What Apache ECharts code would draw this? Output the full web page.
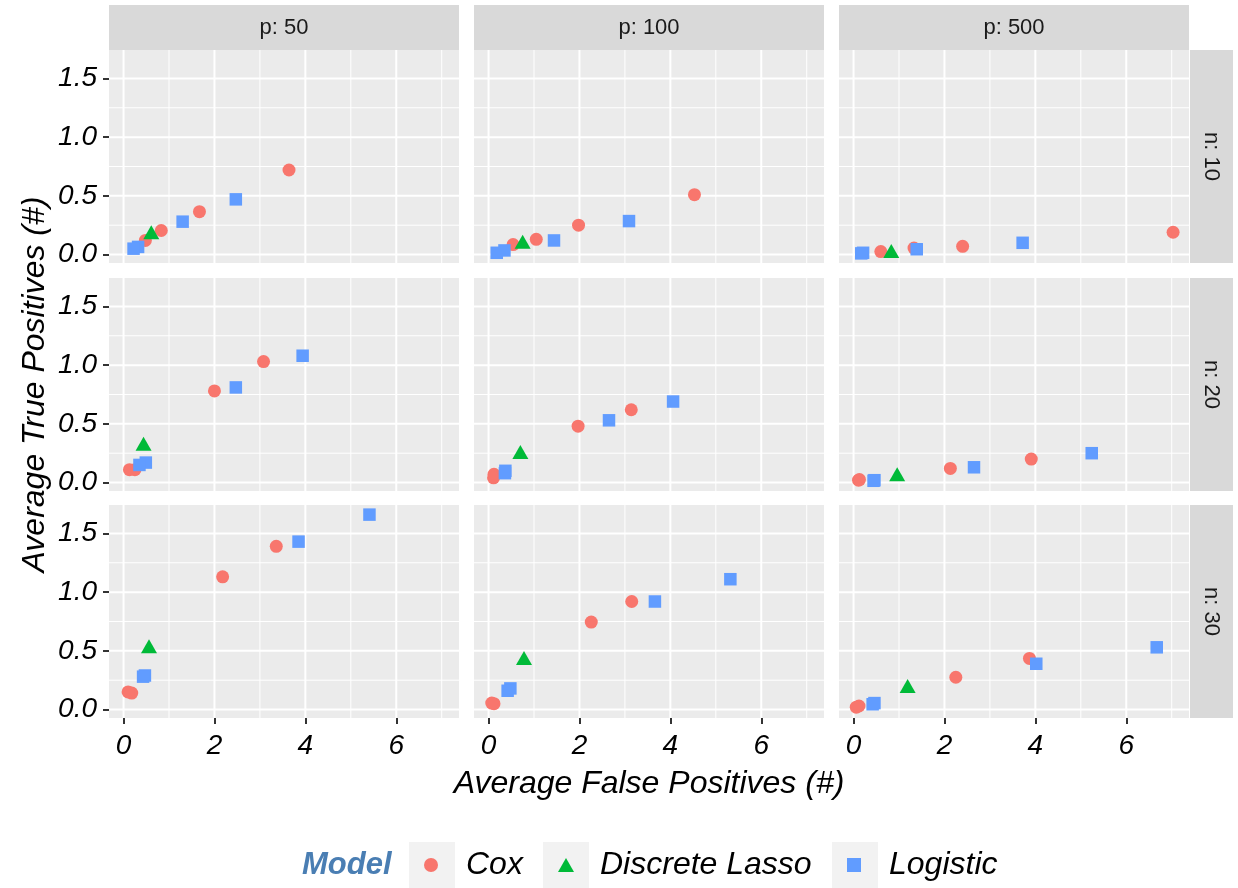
<!DOCTYPE html>
<html>
<head>
<meta charset="utf-8">
<title>Average True vs False Positives</title>
<script src="https://cdn.jsdelivr.net/npm/echarts@6/dist/echarts.min.js"></script>
<style>
  html, body { margin: 0; padding: 0; background: #ffffff; }
  #chart { width: 1238px; height: 888px; }
</style>
</head>
<body>
<div id="chart"></div>
<script>
// Facet labels and model names
const colLabels = ['p: 50', 'p: 100', 'p: 500'];
const rowLabels = ['n: 10', 'n: 20', 'n: 30'];
const models = ['Cox', 'Discrete Lasso', 'Logistic'];

// Axis breaks (major) and minor grid positions
const xBreaks = [0, 2, 4, 6];
const xMinor = [1, 3, 5, 7];
const yBreaks = [0, 0.5, 1.0, 1.5];
const yMinor = [0.25, 0.75, 1.25];

// [average false positives, average true positives]
// n: 10
const cox_n10_p50 = [[3.64, 0.72], [1.67, 0.365], [0.83, 0.205], [0.48, 0.12]];
const lasso_n10_p50 = [[0.61, 0.19]];
const logistic_n10_p50 = [[2.47, 0.47], [1.30, 0.28], [0.32, 0.065], [0.22, 0.05]];

const cox_n10_p100 = [[4.53, 0.51], [1.98, 0.25], [1.05, 0.13], [0.54, 0.085]];
const lasso_n10_p100 = [[0.75, 0.11]];
const logistic_n10_p100 = [[3.09, 0.285], [1.44, 0.12], [0.35, 0.035], [0.18, 0.015]];

const cox_n10_p500 = [[7.03, 0.19], [2.40, 0.07], [1.33, 0.055], [0.60, 0.025]];
const lasso_n10_p500 = [[0.83, 0.03]];
const logistic_n10_p500 = [[3.72, 0.10], [1.39, 0.045], [0.21, 0.015], [0.17, 0.01]];

// n: 20
const cox_n20_p50 = [[3.08, 1.03], [2.00, 0.78], [0.25, 0.11], [0.13, 0.11]];
const lasso_n20_p50 = [[0.44, 0.33]];
const logistic_n20_p50 = [[3.94, 1.08], [2.47, 0.81], [0.49, 0.17], [0.35, 0.15]];

const cox_n20_p100 = [[3.14, 0.62], [1.97, 0.48], [0.12, 0.07], [0.11, 0.04]];
const lasso_n20_p100 = [[0.70, 0.26]];
const logistic_n20_p100 = [[4.06, 0.69], [2.65, 0.53], [0.37, 0.10], [0.36, 0.08]];

const cox_n20_p500 = [[3.91, 0.20], [2.13, 0.12], [0.11, 0.02], [0.13, 0.025]];
const lasso_n20_p500 = [[0.96, 0.07]];
const logistic_n20_p500 = [[5.24, 0.25], [2.65, 0.13], [0.46, 0.02], [0.44, 0.015]];

// n: 30
const cox_n30_p50 = [[3.36, 1.39], [2.18, 1.13], [0.18, 0.14], [0.10, 0.15]];
const lasso_n30_p50 = [[0.56, 0.54]];
const logistic_n30_p50 = [[5.41, 1.66], [3.85, 1.43], [0.47, 0.29], [0.43, 0.28]];

const cox_n30_p100 = [[3.15, 0.92], [2.26, 0.745], [0.12, 0.05], [0.07, 0.055]];
const lasso_n30_p100 = [[0.78, 0.44]];
const logistic_n30_p100 = [[5.32, 1.11], [3.66, 0.92], [0.48, 0.18], [0.42, 0.16]];

const cox_n30_p500 = [[3.87, 0.435], [2.25, 0.275], [0.12, 0.03], [0.06, 0.02]];
const lasso_n30_p500 = [[1.19, 0.20]];
const logistic_n30_p500 = [[6.67, 0.53], [4.02, 0.39], [0.46, 0.055], [0.42, 0.045]];

// Panels in row-major order (rows = n, columns = p), each [Cox, Discrete Lasso, Logistic]
const panels = [
  [cox_n10_p50, lasso_n10_p50, logistic_n10_p50],
  [cox_n10_p100, lasso_n10_p100, logistic_n10_p100],
  [cox_n10_p500, lasso_n10_p500, logistic_n10_p500],
  [cox_n20_p50, lasso_n20_p50, logistic_n20_p50],
  [cox_n20_p100, lasso_n20_p100, logistic_n20_p100],
  [cox_n20_p500, lasso_n20_p500, logistic_n20_p500],
  [cox_n30_p50, lasso_n30_p50, logistic_n30_p50],
  [cox_n30_p100, lasso_n30_p100, logistic_n30_p100],
  [cox_n30_p500, lasso_n30_p500, logistic_n30_p500]
];

// Shared scales
const X_MIN = -0.32, X_MAX = 7.38;
const Y_MIN = -0.072, Y_MAX = 1.742;

// Layout
const FONT = "'Liberation Sans', Arial, Helvetica, sans-serif";
const colLeft = [109, 474, 839];
const rowTop = [50, 278, 505];
const PANEL_W = 350, PANEL_H = 213;
const STRIP_TOP = 5, STRIP_H = 45;
const STRIP_RIGHT_X = 1190, STRIP_RIGHT_W = 43;

const modelColors = ['#F8766D', '#00BA38', '#619CFF'];
const modelSymbols = ['circle', 'triangle', 'rect'];
const modelSizes = [13, [16, 14], 12.5];

// White panel grid lines drawn through each panel's own axes
const gridLineData = []
  .concat(xMinor.map(v => [0, v, 0]))
  .concat(yMinor.map(v => [1, v, 0]))
  .concat(xBreaks.map(v => [0, v, 1]))
  .concat(yBreaks.map(v => [1, v, 1]));

function renderGridLine(params, api) {
  const cs = params.coordSys;
  const orient = api.value(0);
  const v = api.value(1);
  const major = api.value(2) === 1;
  let shape;
  if (orient === 0) {
    const x = api.coord([v, 0])[0];
    shape = { x1: x, y1: cs.y, x2: x, y2: cs.y + cs.height };
  } else {
    const y = api.coord([0, v])[1];
    shape = { x1: cs.x, y1: y, x2: cs.x + cs.width, y2: y };
  }
  return {
    type: 'line',
    shape: shape,
    style: { stroke: '#FFFFFF', lineWidth: major ? 2 : 1 },
    silent: true
  };
}

const grids = [], xAxes = [], yAxes = [], series = [];

for (let r = 0; r < 3; r++) {
  for (let c = 0; c < 3; c++) {
    const k = r * 3 + c;
    grids.push({
      left: colLeft[c], top: rowTop[r], width: PANEL_W, height: PANEL_H,
      show: true, backgroundColor: '#EBEBEB', borderWidth: 0
    });
    const bottomRow = r === 2;
    const firstCol = c === 0;
    const xAxis = {
      gridIndex: k, type: 'value', min: X_MIN, max: X_MAX,
      position: 'bottom',
      splitLine: { show: false },
      axisLine: { show: false, onZero: false },
      axisTick: {
        show: bottomRow, customValues: xBreaks, length: 6,
        lineStyle: { color: '#333333', width: 2 }
      },
      axisLabel: {
        show: bottomRow, customValues: xBreaks, margin: 14,
        fontSize: 28, fontStyle: 'italic', color: '#000000', fontFamily: FONT,
        formatter: v => String(v)
      }
    };
    if (r === 2 && c === 1) {
      xAxis.name = 'Average False Positives (#)';
      xAxis.nameLocation = 'middle';
      xAxis.nameGap = 50;
      xAxis.nameTextStyle = { fontSize: 32, fontStyle: 'italic', color: '#000000', fontFamily: FONT };
    }
    xAxes.push(xAxis);

    const yAxis = {
      gridIndex: k, type: 'value', min: Y_MIN, max: Y_MAX,
      position: 'left',
      splitLine: { show: false },
      axisLine: { show: false, onZero: false },
      axisTick: {
        show: firstCol, customValues: yBreaks, length: 6,
        lineStyle: { color: '#333333', width: 2 }
      },
      axisLabel: {
        show: firstCol, customValues: yBreaks, margin: 12,
        fontSize: 28, fontStyle: 'italic', color: '#000000', fontFamily: FONT,
        formatter: v => v.toFixed(1)
      }
    };
    if (r === 1 && c === 0) {
      yAxis.name = 'Average True Positives (#)';
      yAxis.nameLocation = 'middle';
      yAxis.nameGap = 58;
      yAxis.nameTextStyle = { fontSize: 32, fontStyle: 'italic', color: '#000000', fontFamily: FONT };
    }
    yAxes.push(yAxis);

    series.push({
      type: 'custom', name: 'grid-lines-' + k,
      xAxisIndex: k, yAxisIndex: k,
      renderItem: renderGridLine,
      data: gridLineData,
      silent: true, z: 1, clip: false
    });

    for (let m = 0; m < 3; m++) {
      series.push({
        type: 'scatter', name: models[m],
        xAxisIndex: k, yAxisIndex: k,
        data: panels[k][m],
        symbol: modelSymbols[m],
        symbolSize: modelSizes[m],
        itemStyle: { color: modelColors[m], opacity: 1 },
        z: 3
      });
    }
  }
}

// Facet strips
const graphics = [];
for (let c = 0; c < 3; c++) {
  graphics.push({
    type: 'rect', z: 0,
    shape: { x: colLeft[c], y: STRIP_TOP, width: PANEL_W, height: STRIP_H },
    style: { fill: '#D9D9D9' }
  });
  graphics.push({
    type: 'text', z: 1,
    x: colLeft[c] + PANEL_W / 2, y: STRIP_TOP + STRIP_H / 2,
    style: {
      text: colLabels[c], fill: '#1A1A1A', font: '22px ' + FONT,
      align: 'center', verticalAlign: 'middle',
      textAlign: 'center', textVerticalAlign: 'middle'
    }
  });
}
for (let r = 0; r < 3; r++) {
  graphics.push({
    type: 'rect', z: 0,
    shape: { x: STRIP_RIGHT_X, y: rowTop[r], width: STRIP_RIGHT_W, height: PANEL_H },
    style: { fill: '#D9D9D9' }
  });
  graphics.push({
    type: 'text', z: 1,
    x: STRIP_RIGHT_X + STRIP_RIGHT_W / 2, y: rowTop[r] + PANEL_H / 2,
    rotation: -Math.PI / 2,
    style: {
      text: rowLabels[r], fill: '#1A1A1A', font: '22px ' + FONT,
      align: 'center', verticalAlign: 'middle',
      textAlign: 'center', textVerticalAlign: 'middle'
    }
  });
}

// Legend title and key backgrounds
graphics.push({
  type: 'text', z: 1, x: 302, y: 865,
  style: {
    text: 'Model', fill: '#4A7EB3', font: 'italic bold 31px ' + FONT,
    align: 'left', verticalAlign: 'middle',
    textAlign: 'left', textVerticalAlign: 'middle'
  }
});
const keyLeft = [409, 543, 832];
keyLeft.forEach(x => graphics.push({
  type: 'rect', z: 0,
  shape: { x: x, y: 842, width: 46, height: 46 },
  style: { fill: '#F2F2F2' }
}));

const legendLeft = [424, 558, 847];
const legends = models.map((name, m) => ({
  data: [{ name: name, icon: modelSymbols[m] }],
  left: legendLeft[m], top: 845, padding: 0,
  orient: 'horizontal', selectedMode: false,
  itemWidth: m === 1 ? 16 : 14, itemHeight: 14,
  itemStyle: { color: modelColors[m] },
  textStyle: {
    fontSize: 32, fontStyle: 'italic', color: '#000000', fontFamily: FONT,
    lineHeight: 40, padding: [0, 0, 0, m === 1 ? 21 : 23]
  }
}));

const chart = echarts.init(document.getElementById('chart'), null, { renderer: 'canvas' });
chart.setOption({
  animation: false,
  backgroundColor: '#FFFFFF',
  grid: grids,
  xAxis: xAxes,
  yAxis: yAxes,
  legend: legends,
  graphic: { elements: graphics },
  series: series
});
</script>
</body>
</html>
